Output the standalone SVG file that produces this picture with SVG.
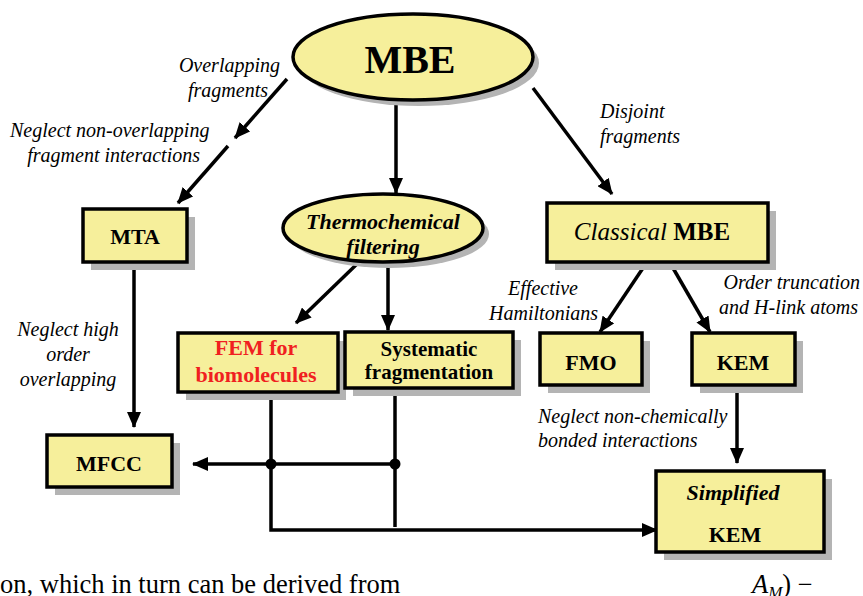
<svg xmlns="http://www.w3.org/2000/svg" width="863" height="596" viewBox="0 0 863 596">
  <defs>
    <marker id="arrow" markerUnits="userSpaceOnUse" markerWidth="16" markerHeight="14" refX="15" refY="7" orient="auto">
      <path d="M0,0 L16,7 L0,14 z" fill="#000"/>
    </marker>
    <style>
      .node { fill: #f6ef9b; stroke: #000; stroke-width: 3.5; }
      .shadow { fill: #b4b4b4; stroke: none; }
      .link { fill: none; stroke: #000; stroke-width: 3.5; }
      .arrow { fill: none; stroke: #000; stroke-width: 3.5; marker-end: url(#arrow); }
      .dot { fill: #000; }
      text { font-family: "Liberation Serif", "Times New Roman", serif; fill: #000; }
      .title { font-weight: bold; font-size: 22px; text-anchor: middle; }
      .label { font-style: italic; font-size: 20px; }
      .body { font-size: 26.5px; }
    </style>
  </defs>
  <rect width="863" height="596" fill="#fff"/>

  <!-- connectors -->
  <g id="connectors">
    <line class="arrow" x1="287" y1="79" x2="235" y2="138"/>
    <line class="arrow" x1="228" y1="146" x2="178" y2="203"/>
    <line class="arrow" x1="396" y1="100" x2="396" y2="193"/>
    <line class="arrow" x1="533" y1="88" x2="612" y2="194"/>
    <line class="arrow" x1="134" y1="262" x2="134" y2="427"/>
    <line class="arrow" x1="357" y1="264" x2="296" y2="323"/>
    <line class="arrow" x1="388" y1="262" x2="388" y2="330"/>
    <line class="arrow" x1="643" y1="268" x2="600" y2="332"/>
    <line class="arrow" x1="673" y1="268" x2="710" y2="332"/>
    <line class="arrow" x1="737" y1="385" x2="737" y2="463"/>
    <line class="link" x1="395" y1="394" x2="395" y2="527"/>
    <line class="arrow" x1="395" y1="464" x2="193" y2="464"/>
    <polyline class="arrow" points="271,392 271,530 657,530"/>
    <circle class="dot" cx="271" cy="464" r="5.5"/>
    <circle class="dot" cx="395" cy="464" r="5.5"/>
  </g>

  <!-- edge labels -->
  <g id="labels" class="label">
    <text x="280" y="72" text-anchor="end">Overlapping</text>
    <text x="268" y="97" text-anchor="end">fragments</text>
    <text x="10" y="137">Neglect non-overlapping</text>
    <text x="200" y="162" text-anchor="end">fragment interactions</text>
    <text x="68" y="336" text-anchor="middle">Neglect high</text>
    <text x="68" y="361" text-anchor="middle">order</text>
    <text x="68" y="386" text-anchor="middle">overlapping</text>
    <text x="600" y="118">Disjoint</text>
    <text x="600" y="143">fragments</text>
    <text x="578" y="295" text-anchor="end">Effective</text>
    <text x="598" y="320" text-anchor="end">Hamiltonians</text>
    <text x="860" y="289" text-anchor="end">Order truncation</text>
    <text x="858" y="314" text-anchor="end">and H-link atoms</text>
    <text x="538" y="423">Neglect non-chemically</text>
    <text x="538" y="447">bonded interactions</text>
  </g>

  <g id="mbe">
    <ellipse class="shadow" cx="419" cy="63" rx="120" ry="43"/>
    <ellipse class="node" cx="413" cy="57" rx="120" ry="43"/>
    <text class="title" x="410" y="73" style="font-size:40px">MBE</text>
  </g>

  <g id="mta">
    <rect class="shadow" x="91" y="217" width="104" height="53"/>
    <rect class="node" x="83" y="209" width="104" height="53"/>
    <text class="title" x="135" y="244">MTA</text>
  </g>

  <g id="thermochemical">
    <ellipse class="shadow" cx="389" cy="234" rx="100" ry="34"/>
    <ellipse class="node" cx="383" cy="228" rx="100" ry="34"/>
    <text class="title" x="383" y="229" style="font-style:italic">Thermochemical</text>
    <text class="title" x="383" y="254" style="font-style:italic">filtering</text>
  </g>

  <g id="classical-mbe">
    <rect class="shadow" x="555" y="211" width="221" height="59"/>
    <rect class="node" x="547" y="203" width="221" height="59"/>
    <text class="title" x="652" y="240" style="font-size:25px"><tspan style="font-weight:normal;font-style:italic">Classical</tspan> MBE</text>
  </g>

  <g id="fem">
    <rect class="shadow" x="186" y="341" width="160" height="59"/>
    <rect class="node" x="178" y="333" width="160" height="59"/>
    <text class="title" x="256" y="355" style="fill:#f02020">FEM for</text>
    <text class="title" x="256" y="382" style="fill:#f02020">biomolecules</text>
  </g>

  <g id="systematic">
    <rect class="shadow" x="353" y="340" width="168" height="56"/>
    <rect class="node" x="345" y="332" width="168" height="56"/>
    <text class="title" x="429" y="356" style="font-size:21px">Systematic</text>
    <text class="title" x="429" y="379" style="font-size:21px">fragmentation</text>
  </g>

  <g id="fmo">
    <rect class="shadow" x="548" y="341" width="102" height="52"/>
    <rect class="node" x="540" y="333" width="102" height="52"/>
    <text class="title" x="591" y="370">FMO</text>
  </g>

  <g id="kem">
    <rect class="shadow" x="700" y="341" width="103" height="52"/>
    <rect class="node" x="692" y="333" width="103" height="52"/>
    <text class="title" x="743" y="370">KEM</text>
  </g>

  <g id="mfcc">
    <rect class="shadow" x="55" y="443" width="125" height="52"/>
    <rect class="node" x="47" y="435" width="125" height="52"/>
    <text class="title" x="109" y="471">MFCC</text>
  </g>

  <g id="simplified-kem">
    <rect class="shadow" x="664" y="479" width="168" height="81"/>
    <rect class="node" x="656" y="471" width="168" height="81"/>
    <text class="title" x="733" y="500" style="font-style:italic">Simplified</text>
    <text class="title" x="735" y="542">KEM</text>
  </g>

  <!-- running text below the figure -->
  <text class="body" x="0" y="593">on, which in turn can be derived from</text>
  <text class="body" x="752" y="593"><tspan style="font-style:italic">A</tspan><tspan dy="5" style="font-style:italic;font-size:17px">M</tspan><tspan dy="-5">) −</tspan></text>
</svg>
